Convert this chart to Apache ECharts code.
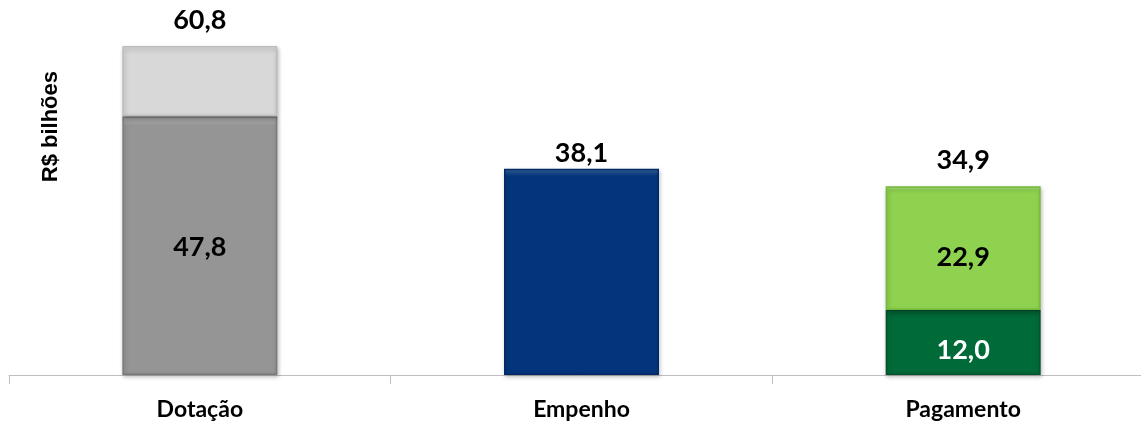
<!DOCTYPE html>
<html>
<head>
<meta charset="utf-8">
<script src="https://cdn.jsdelivr.net/npm/echarts@6/dist/echarts.min.js"></script>
<style>
html,body{margin:0;padding:0;background:#fff;overflow:hidden;}
#c{width:1154px;height:421px;}
</style>
</head>
<body>
<div id="c"></div>
<script>
const categories = ['Dotação', 'Empenho', 'Pagamento'];
const baseValues = [47.8, 38.1, 12.0];
const topValues = [13.0, null, 22.9];
const totals = [60.8, 38.1, 34.9];
const baseLabels = ['47,8', '', '12,0'];
const topLabels = ['', '', '22,9'];
const totalLabels = ['60,8', '38,1', '34,9'];
const yAxisTitle = 'R$ bilhões';

const baseColors = ['#959595', '#04357c', '#006a38'];
const baseLight = ['#b4b4b4', '#3a64a0', '#2f8a5c'];
const baseBorders = ['#7a7a7a', '#022a66', '#00552c'];
const baseLabelColors = ['#000', '#000', '#fff'];
const baseLabelOffsets = [2, 0, 8];
const topColors = ['#d8d8d8', null, '#8ed24f'];
const topLight = ['#e8e8e8', null, '#aee07f'];
const topBorders = ['#bdbdbd', null, '#76b83c'];
const topLabelOffsets = [0, 0, 9];
const totalDistances = [12, 2, 12];

function bevel(c, light, border) {
  return {
    color: {
      type: 'linear', x: 0, y: 0, x2: 0, y2: 1,
      colorStops: [
        { offset: 0, color: light },
        { offset: 0.035, color: c },
        { offset: 1, color: c }
      ]
    },
    borderColor: border,
    borderWidth: 1.5,
    shadowColor: 'rgba(0,0,0,0.25)',
    shadowBlur: 4,
    shadowOffsetX: 1,
    shadowOffsetY: 2
  };
}

const labelFont = { fontFamily: 'Lato', fontWeight: 'bold', fontSize: 27 };

const chart = echarts.init(document.getElementById('c'), null, { renderer: 'canvas' });
chart.setOption({
  animation: false,
  grid: { left: 9, top: 0, bottom: 46, right: 0 },
  xAxis: {
    type: 'category',
    data: categories,
    axisLine: { lineStyle: { color: '#bfbfbf', width: 1 } },
    axisTick: { show: true, length: 9, lineStyle: { color: '#bfbfbf' } },
    axisLabel: { color: '#000', fontFamily: 'Lato', fontWeight: 'bold', fontSize: 23, margin: 23 }
  },
  yAxis: { type: 'value', min: 0, max: 69.3, show: false },
  graphic: [{
    type: 'text',
    left: 40,
    top: 71,
    rotation: Math.PI / 2,
    style: { text: yAxisTitle, fill: '#000', font: 'bold 22px "Liberation Sans", Arial, sans-serif' }
  }],
  series: [
    {
      type: 'bar',
      stack: 's',
      barWidth: 155,
      data: baseValues.map((v, i) => ({
        value: v,
        itemStyle: bevel(baseColors[i], baseLight[i], baseBorders[i]),
        label: {
          show: baseLabels[i] !== '',
          position: 'inside',
          offset: [0, baseLabelOffsets[i]],
          formatter: baseLabels[i],
          color: baseLabelColors[i],
          ...labelFont
        }
      }))
    },
    {
      type: 'bar',
      stack: 's',
      barWidth: 155,
      data: topValues.map((v, i) => v == null ? '-' : ({
        value: v,
        itemStyle: bevel(topColors[i], topLight[i], topBorders[i]),
        label: {
          show: topLabels[i] !== '',
          position: 'inside',
          offset: [0, topLabelOffsets[i]],
          formatter: topLabels[i],
          color: '#000',
          ...labelFont
        }
      }))
    },
    {
      type: 'scatter',
      symbolSize: 0,
      silent: true,
      itemStyle: { opacity: 1 },
      data: totals.map((v, i) => ({
        value: v,
        label: {
          show: true,
          position: 'top',
          distance: totalDistances[i],
          formatter: totalLabels[i],
          color: '#000',
          ...labelFont
        }
      }))
    }
  ]
});
</script>
</body>
</html>
